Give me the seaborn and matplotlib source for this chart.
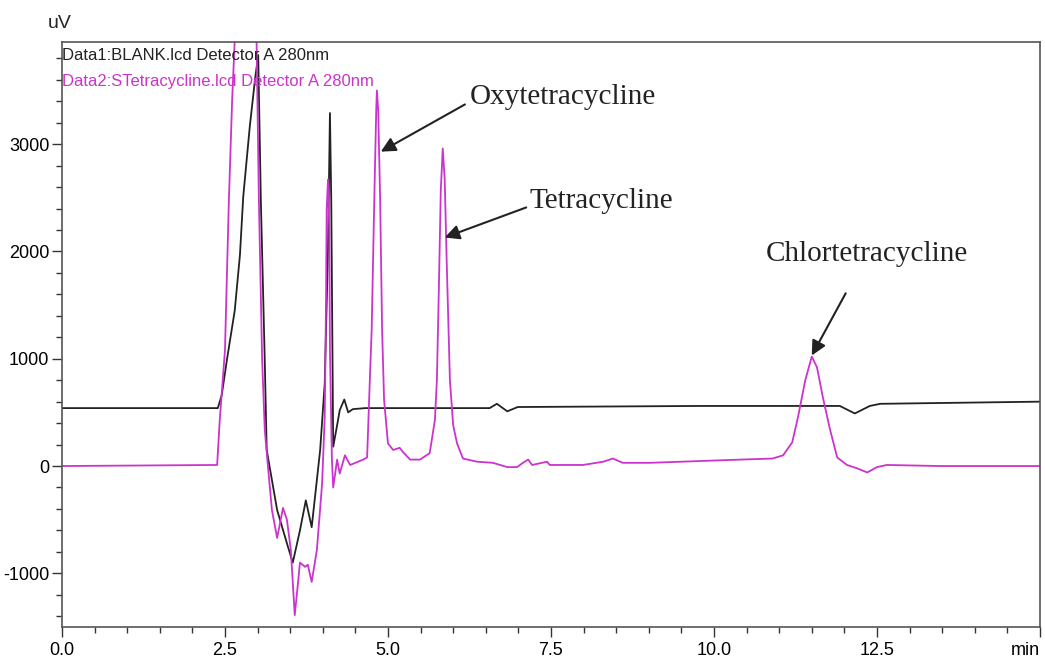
import matplotlib
matplotlib.use("Agg")
import matplotlib.pyplot as plt
import seaborn as sns
import pandas as pd
from matplotlib.ticker import MultipleLocator

# blank trace (black), time in min, signal in uV
blank_t = [0.00, 2.39, 2.45, 2.53, 2.65, 2.73, 2.78, 2.88, 2.96, 3.01, 3.05, 3.11, 3.14,
           3.30, 3.45, 3.54, 3.65, 3.74, 3.83, 3.96, 4.03, 4.08, 4.11, 4.13, 4.16, 4.22,
           4.26, 4.33, 4.39, 4.46, 4.65, 6.56, 6.67, 6.83, 6.99, 9.79, 11.93, 12.16,
           12.39, 12.55, 15.00]
blank_v = [540, 540, 660, 990, 1450, 1970, 2510, 3160, 3600, 3830, 2480, 990, 150,
           -410, -720, -900, -600, -320, -570, 150, 770, 2010, 3290, 2480, 180, 380,
           520, 620, 500, 530, 540, 540, 580, 510, 550, 560, 560, 490,
           560, 580, 600]

# tetracycline standard trace (magenta)
std_t = [0.00, 2.38, 2.42, 2.50, 2.56, 2.61, 2.65, 2.73, 2.88, 2.98, 3.02, 3.07, 3.11,
         3.16, 3.22, 3.30, 3.39, 3.45, 3.51, 3.57, 3.62, 3.65, 3.73, 3.77, 3.83, 3.91,
         3.99, 4.03, 4.05, 4.06, 4.08, 4.10, 4.11, 4.14, 4.16, 4.22, 4.26, 4.34, 4.42,
         4.62, 4.68, 4.72, 4.75, 4.79, 4.82, 4.83, 4.85, 4.88, 4.91, 4.94, 5.00, 5.08,
         5.18, 5.23, 5.34, 5.49, 5.64, 5.72, 5.75, 5.78, 5.81, 5.84, 5.87, 5.90, 5.95,
         6.00, 6.06, 6.15, 6.37, 6.61, 6.83, 6.98, 7.07, 7.15, 7.21, 7.44, 7.48, 7.99,
         8.30, 8.45, 8.60, 9.02, 10.40, 10.90, 11.06, 11.20, 11.29, 11.40, 11.50, 11.58,
         11.67, 11.78, 11.89, 12.04, 12.19, 12.35, 12.50, 12.65, 13.47, 15.00]
std_v = [0, 10, 430, 1080, 2480, 3410, 3970, 4340, 4530, 4160, 2480, 990, 340,
         -10, -410, -670, -390, -500, -780, -1390, -1090, -900, -940, -920, -1080, -780,
         -160, 460, 1550, 2390, 2670, 2200, 1080, 60, -200, 60, -70, 100, 10,
         60, 80, 770, 1270, 2480, 3320, 3500, 3320, 2480, 1270, 620, 210, 150,
         170, 130, 60, 60, 120, 430, 800, 1640, 2570, 2960, 2670, 1920, 800,
         380, 210, 70, 40, 30, -10, -10, 30, 60, 10, 40, 10, 10,
         40, 70, 30, 30, 60, 70, 100, 220, 460, 800, 1020, 920,
         640, 340, 80, 10, -20, -60, -10, 10, 0, 0]

trace_names = ["Data1:BLANK.lcd Detector A 280nm",
               "Data2:STetracycline.lcd Detector A 280nm"]
trace_colors = ["#222222", "#cc33cc"]

# peak labels: arrow tip, arrow tail and text position (time, uV)
peak_names = ["Oxytetracycline", "Tetracycline", "Chlortetracycline"]
tip_t = [4.89, 5.87, 11.50]
tip_v = [2930, 2130, 1030]
tail_t = [6.18, 7.12, 12.02]
tail_v = [3370, 2410, 1610]
label_t = [6.25, 7.17, 10.80]
label_v = [3440, 2470, 1980]

x_ticks = [0.0, 2.5, 5.0, 7.5, 10.0, 12.5, 15.0]
x_labels = ["0.0", "2.5", "5.0", "7.5", "10.0", "12.5", "min"]
y_ticks = [-1000, 0, 1000, 2000, 3000]

sns.set_style("ticks")
plt.rcParams["font.family"] = ["Liberation Sans", "DejaVu Sans"]
plt.rcParams["axes.unicode_minus"] = False

df = pd.concat([
    pd.DataFrame({"t": blank_t, "v": blank_v, "trace": trace_names[0]}),
    pd.DataFrame({"t": std_t, "v": std_v, "trace": trace_names[1]}),
])

fig = plt.figure(figsize=(10.45, 6.7), dpi=100)
ax = fig.add_axes([0.0593, 0.0642, 0.9359, 0.8728])
sns.lineplot(data=df, x="t", y="v", hue="trace", palette=trace_colors,
             linewidth=1.3, legend=False, ax=ax, sort=False, estimator=None)

ax.set_xlim(0, 15)
ax.set_ylim(-1500, 3950)
ax.set_xticks(x_ticks)
ax.set_xticklabels(x_labels)
ax.get_xticklabels()[-1].set_horizontalalignment("right")
ax.set_yticks(y_ticks)
ax.xaxis.set_minor_locator(MultipleLocator(0.5))
ax.yaxis.set_minor_locator(MultipleLocator(200))
ax.tick_params(which="both", direction="out", colors="#333333", labelcolor="black",
               labelsize=13, width=1)
ax.tick_params(which="major", length=7)
ax.tick_params(which="minor", length=4)
ax.tick_params(axis="y", pad=2)
ax.set_xlabel("")
ax.set_ylabel("")
for s in ax.spines.values():
    s.set_color("#555555")
    s.set_linewidth(1.2)

fig.text(48 / 1045, 1 - 24 / 670, "uV", fontsize=14, va="center", ha="left")
ax.text(0.0, 0.99, trace_names[0], transform=ax.transAxes, color=trace_colors[0],
        fontsize=12, va="top", ha="left")
ax.text(0.0, 0.945, trace_names[1], transform=ax.transAxes, color=trace_colors[1],
        fontsize=12, va="top", ha="left")

for name, tt, tv, at, av, lt, lv in zip(peak_names, tip_t, tip_v, tail_t, tail_v,
                                        label_t, label_v):
    ax.annotate("", xy=(tt, tv), xytext=(at, av),
                arrowprops=dict(arrowstyle="-|>", color="#222222", lw=1.5,
                                mutation_scale=22, shrinkA=0, shrinkB=0))
    ax.text(lt, lv, name, fontsize=21, family="Liberation Serif", color="#222222",
            va="center", ha="left")

fig.savefig("out.png", dpi=100)
